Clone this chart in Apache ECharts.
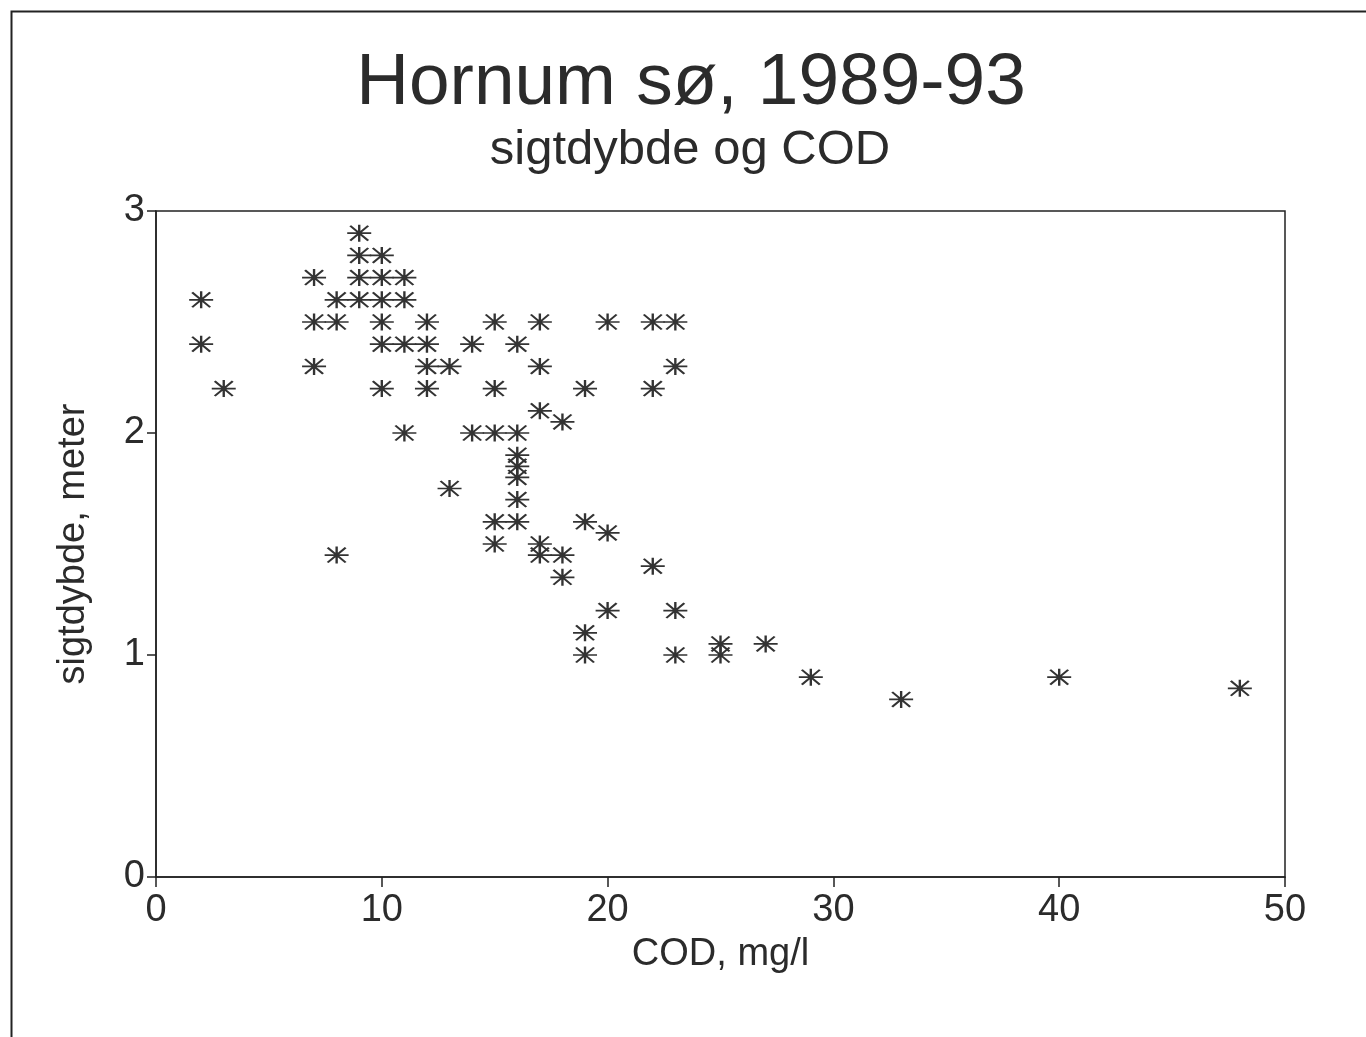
<!DOCTYPE html>
<html>
<head>
<meta charset="utf-8">
<title>Hornum sø, 1989-93</title>
<script src="https://cdn.jsdelivr.net/npm/echarts@6/dist/echarts.min.js"></script>
<style>
  html, body { margin: 0; padding: 0; background: #fff; }
  #chart { width: 1366px; height: 1037px; }
</style>
</head>
<body>
<div id="chart"></div>
<script>
// COD (mg/l) and sigtdybde (m), one entry per measurement
const cod = [
    9,
    9, 10,
    7, 9, 10, 11,
    2, 8, 9, 10, 11,
    7, 8, 10, 12, 15, 17, 20, 22, 23,
    2, 10, 11, 12, 14, 16,
    7, 12, 13, 17, 23,
    3, 10, 12, 15, 19, 22,
    17, 18,
    11, 14, 15, 16,
    16, 16, 16, 13, 16,
    15, 16, 19, 20,
    15, 17,
    8, 17, 18,
    22, 18,
    20, 23, 19,
    25, 27,
    19, 23, 25,
    29, 40, 48, 33
];
const sigtdybde = [
    2.9,
    2.8, 2.8,
    2.7, 2.7, 2.7, 2.7,
    2.6, 2.6, 2.6, 2.6, 2.6,
    2.5, 2.5, 2.5, 2.5, 2.5, 2.5, 2.5, 2.5, 2.5,
    2.4, 2.4, 2.4, 2.4, 2.4, 2.4,
    2.3, 2.3, 2.3, 2.3, 2.3,
    2.2, 2.2, 2.2, 2.2, 2.2, 2.2,
    2.1, 2.05,
    2.0, 2.0, 2.0, 2.0,
    1.9, 1.85, 1.8, 1.75, 1.7,
    1.6, 1.6, 1.6, 1.55,
    1.5, 1.5,
    1.45, 1.45, 1.45,
    1.4, 1.35,
    1.2, 1.2, 1.1,
    1.05, 1.05,
    1.0, 1.0, 1.0,
    0.9, 0.9, 0.85, 0.8
];
const xTicks = [0, 10, 20, 30, 40, 50];
const yTicks = [0, 1, 2, 3];

const font = "'Liberation Sans', Arial, Helvetica, sans-serif";
const ink = '#2b2b2b';
// asterisk marker: horizontal, vertical and two diagonal strokes
const star = 'path://M0,8 L24,8 M12,0 L12,16 M3,1 L21,15 M3,15 L21,1';

const points = cod.map((c, i) => [c, sigtdybde[i]]);

const chart = echarts.init(document.getElementById('chart'));
chart.setOption({
    backgroundColor: '#fff',
    animation: false,
    textStyle: { fontFamily: font, color: ink },
    title: [
        {
            text: 'Hornum sø, 1989-93',
            left: 686,
            top: 42,
            textAlign: 'center',
            textStyle: { fontFamily: font, fontSize: 73, fontWeight: 'normal', color: ink }
        },
        {
            text: 'sigtdybde og COD',
            left: 685,
            top: 121,
            textAlign: 'center',
            textStyle: { fontFamily: font, fontSize: 49, fontWeight: 'normal', color: ink }
        }
    ],
    graphic: [{
        type: 'rect',
        left: 9,
        top: 9,
        shape: { width: 1400, height: 1100 },
        style: { fill: 'none', stroke: '#222', lineWidth: 2 },
        silent: true
    }],
    grid: {
        left: 156,
        right: 81,
        top: 211,
        bottom: 160,
        show: true,
        borderColor: '#222',
        borderWidth: 1.5,
        containLabel: false
    },
    xAxis: {
        type: 'value',
        min: xTicks[0],
        max: xTicks[xTicks.length - 1],
        interval: 10,
        name: 'COD, mg/l',
        nameLocation: 'middle',
        nameGap: 59,
        nameTextStyle: { fontFamily: font, fontSize: 38, color: ink },
        axisLine: { onZero: false, lineStyle: { color: '#222', width: 1.5 } },
        axisTick: { show: true, length: 10, lineStyle: { color: '#222', width: 1.5 } },
        axisLabel: { fontFamily: font, fontSize: 38, color: ink, margin: 15 },
        splitLine: { show: false }
    },
    yAxis: {
        type: 'value',
        min: yTicks[0],
        max: yTicks[yTicks.length - 1],
        interval: 1,
        name: 'sigtdybde, meter',
        nameLocation: 'middle',
        nameGap: 63,
        nameTextStyle: { fontFamily: font, fontSize: 38, color: ink },
        axisLine: { onZero: false, lineStyle: { color: '#222', width: 1.5 } },
        axisTick: { show: true, length: 9, lineStyle: { color: '#222', width: 1.5 } },
        axisLabel: { fontFamily: font, fontSize: 38, color: ink, margin: 11 },
        splitLine: { show: false }
    },
    series: [{
        type: 'scatter',
        data: points,
        symbol: star,
        symbolSize: [24, 17],
        itemStyle: { color: 'none', borderColor: '#333', borderWidth: 2, opacity: 1 },
        emphasis: { disabled: true }
    }]
});
</script>
</body>
</html>
